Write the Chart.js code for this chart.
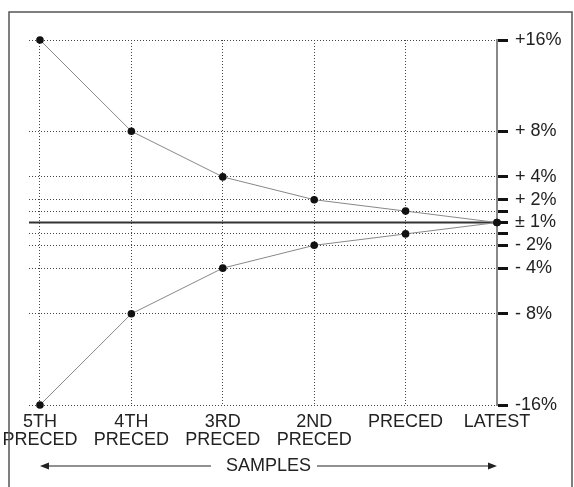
<!DOCTYPE html>
<html><head><meta charset="utf-8">
<script src="https://cdn.jsdelivr.net/npm/chart.js@4/dist/chart.umd.min.js"></script>
<style>html,body{margin:0;padding:0;background:#fff}#wrap{width:574px;height:487px;position:relative}</style>
</head><body><div id="wrap"><canvas id="c" width="574" height="487"></canvas></div>
<script>
const categories = [["5TH","PRECED"],["4TH","PRECED"],["3RD","PRECED"],["2ND","PRECED"],"PRECED","LATEST"];
const upperValues = [16, 8, 4, 2, 1, 0];
const lowerValues = [-16, -8, -4, -2, -1, 0];
const yTickValues = [16, 8, 4, 2, 1, 0, -1, -2, -4, -8, -16];
const yTickLabels = ["+16%","+ 8%","+ 4%","+ 2%","","± 1%","","- 2%","- 4%","- 8%","-16%"];
const axisTitle = "SAMPLES";

const FONT = "'Liberation Sans', Arial, sans-serif";

const decor = {
  id: 'decor',
  beforeDatasetsDraw(chart) {
    const {ctx, chartArea, scales} = chart;
    const y0 = scales.y.getPixelForValue(0);
    ctx.save();
    ctx.strokeStyle = '#333';
    ctx.lineWidth = 2;
    ctx.beginPath();
    ctx.moveTo(chartArea.left, y0);
    ctx.lineTo(chartArea.right, y0);
    ctx.stroke();
    ctx.restore();
  },
  afterDraw(chart) {
    const {ctx, scales} = chart;
    ctx.save();
    ctx.strokeStyle = '#555';
    ctx.lineWidth = 1.5;
    ctx.strokeRect(9, 12, 563, 485);
    const xL = scales.x.getPixelForValue(0);
    const xR = scales.x.getPixelForValue(categories.length - 1);
    const cx = (xL + xR) / 2;
    const ty = 466;
    ctx.font = '18px ' + FONT;
    ctx.fillStyle = '#222';
    ctx.textAlign = 'center';
    ctx.textBaseline = 'middle';
    ctx.fillText(axisTitle, cx, ty);
    const w = ctx.measureText(axisTitle).width;
    ctx.strokeStyle = '#222';
    ctx.lineWidth = 1.2;
    ctx.beginPath();
    ctx.moveTo(xL + 6, ty); ctx.lineTo(cx - w / 2 - 15, ty);
    ctx.moveTo(cx + w / 2 + 6, ty); ctx.lineTo(xR - 6, ty);
    ctx.stroke();
    ctx.fillStyle = '#222';
    ctx.beginPath();
    ctx.moveTo(xL, ty); ctx.lineTo(xL + 9, ty - 3.5); ctx.lineTo(xL + 9, ty + 3.5); ctx.closePath();
    ctx.moveTo(xR, ty); ctx.lineTo(xR - 9, ty - 3.5); ctx.lineTo(xR - 9, ty + 3.5); ctx.closePath();
    ctx.fill();
    ctx.restore();
  }
};

const mkData = vals => vals.map((v, i) => ({x: i, y: v}));

new Chart(document.getElementById('c'), {
  type: 'line',
  data: {
    datasets: [
      {data: mkData(upperValues), borderColor: '#888', borderWidth: 1, tension: 0, pointRadius: 3.8,
       pointBackgroundColor: '#111', pointBorderColor: '#111', pointBorderWidth: 0, clip: false},
      {data: mkData(lowerValues), borderColor: '#888', borderWidth: 1, tension: 0, pointRadius: 3.8,
       pointBackgroundColor: '#111', pointBorderColor: '#111', pointBorderWidth: 0, clip: false}
    ]
  },
  options: {
    responsive: false,
    animation: false,
    devicePixelRatio: 1,
    layout: {padding: {left: 29, top: 40, right: 0, bottom: 0}},
    plugins: {legend: {display: false}, tooltip: {enabled: false}},
    scales: {
      x: {
        type: 'linear', position: 'bottom', min: -0.12, max: 5,
        afterBuildTicks(s) { s.ticks = categories.map((_, i) => ({value: i})); },
        afterFit(s) { s.height = 82; s.paddingLeft = 0; s.paddingRight = 0; },
        ticks: {autoSkip: false, maxRotation: 0, minRotation: 0, padding: 8, color: '#222',
          font: {family: FONT, size: 18, lineHeight: 1.0},
          callback: v => categories[v]},
        grid: {color: '#444', lineWidth: 1, drawTicks: false},
        border: {display: false, dash: [1, 2]}
      },
      y: {
        type: 'linear', position: 'right', min: -16, max: 16,
        afterBuildTicks(s) { s.ticks = yTickValues.map(v => ({value: v})); },
        afterFit(s) { s.width = 77; s.paddingTop = 0; s.paddingBottom = 0; },
        ticks: {padding: 7, color: '#222', font: {family: FONT, size: 18},
          callback: v => yTickLabels[yTickValues.indexOf(v)]},
        grid: {color: '#444', lineWidth: 1, drawTicks: true, tickLength: 11, tickWidth: 3,
          tickColor: '#111', tickBorderDash: []},
        border: {display: true, color: '#888', width: 2, dash: [1, 2]}
      }
    }
  },
  plugins: [decor]
});
</script>
</body></html>
